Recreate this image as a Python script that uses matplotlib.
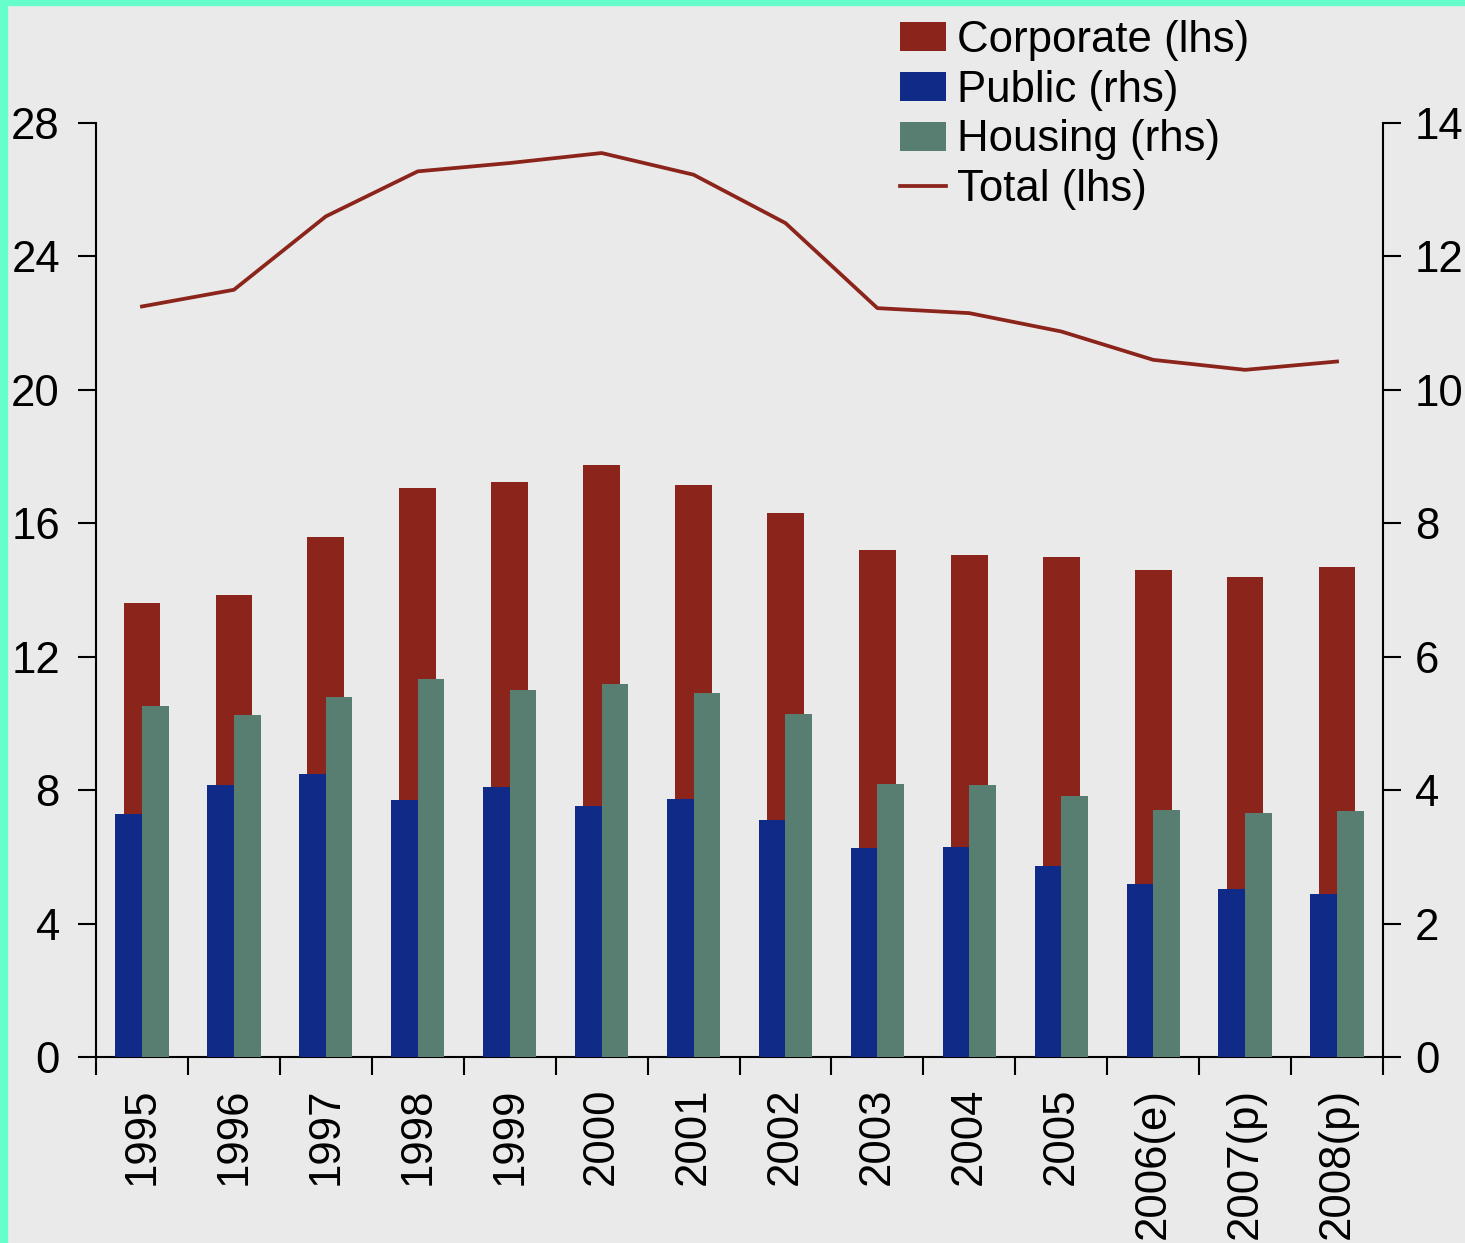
import matplotlib
matplotlib.use("Agg")
import matplotlib.pyplot as plt
import numpy as np
from matplotlib.patches import Rectangle

plt.rcParams['font.family'] = ['Liberation Sans', 'DejaVu Sans']

# data
years = ['1995', '1996', '1997', '1998', '1999', '2000', '2001', '2002',
         '2003', '2004', '2005', '2006(e)', '2007(p)', '2008(p)']
corporate = [13.6, 13.85, 15.6, 17.05, 17.25, 17.75, 17.15, 16.3,
             15.2, 15.05, 15.0, 14.6, 14.4, 14.7]
total = [22.5, 23.0, 25.2, 26.55, 26.8, 27.1, 26.45, 25.0,
         22.45, 22.3, 21.75, 20.9, 20.6, 20.85]
public = [3.64, 4.08, 4.24, 3.85, 4.05, 3.76, 3.87, 3.55,
          3.13, 3.15, 2.86, 2.59, 2.52, 2.44]
housing = [5.26, 5.13, 5.4, 5.67, 5.5, 5.59, 5.46, 5.14,
           4.09, 4.08, 3.91, 3.7, 3.66, 3.69]

c_corp = '#8B241B'
c_pub = '#0F2A87'
c_hous = '#577E71'
bg = '#EAEAEA'
fs = 31.5

fig = plt.figure(figsize=(14.65, 12.43), dpi=100, facecolor=bg)
ax = fig.add_axes([96/1465, 1 - 1057/1243, (1383-96)/1465, (1057-123)/1243])
ax.set_facecolor(bg)
ax2 = ax.twinx()
ax2.patch.set_visible(False)

x = np.arange(len(years))
bw = 0.29

ax.bar(x, corporate, width=0.40, color=c_corp, label='Corporate (lhs)', zorder=1)
ax.plot(x, total, color=c_corp, lw=2.7, label='Total (lhs)', zorder=2)
ax2.bar(x - bw/2, public, width=bw, color=c_pub, label='Public (rhs)')
ax2.bar(x + bw/2, housing, width=bw, color=c_hous, label='Housing (rhs)')

ax.set_xlim(-0.5, len(years) - 0.5)
ax.set_ylim(0, 28)
ax2.set_ylim(0, 14)
ax.set_yticks(range(0, 29, 4))
ax2.set_yticks(range(0, 15, 2))

ax.set_xticks(x)
ax.set_xticklabels(years, rotation=90, va='top', ha='center')
ax.set_xticks(np.arange(-0.5, len(years)), minor=True)
ax.tick_params(axis='x', which='major', length=0, pad=22, labelsize=fs)
ax.tick_params(axis='x', which='minor', length=13, width=1.5, direction='out')
ax.tick_params(axis='y', length=13, width=1.5, direction='out', labelsize=fs, pad=13)
ax2.tick_params(axis='y', length=13, width=1.5, direction='out', labelsize=fs, pad=10)

for a in (ax, ax2):
    a.spines['top'].set_visible(False)
    for s in a.spines.values():
        s.set_linewidth(1.5)
ax.spines['right'].set_visible(False)
ax2.spines['left'].set_visible(False)
ax2.spines['bottom'].set_visible(False)

# legend
h1, l1 = ax.get_legend_handles_labels()
h2, l2 = ax2.get_legend_handles_labels()
handles = [h1[1], h2[0], h2[1], h1[0]]
labels = [l1[1], l2[0], l2[1], l1[0]]
leg = fig.legend(handles, labels, loc='upper left', bbox_to_anchor=(900/1465, 1 - 20/1243),
                 frameon=False, fontsize=fs, handlelength=1.05, handleheight=0.65,
                 handletextpad=0.25, labelspacing=0.2, borderaxespad=0, borderpad=0)

# mint border on top and left
fig.add_artist(Rectangle((0, 1 - 5/1243), 1, 5/1243, transform=fig.transFigure,
                         color='#66FFCC', zorder=10))
fig.add_artist(Rectangle((0, 0), 7/1465, 1, transform=fig.transFigure,
                         color='#66FFCC', zorder=10))

fig.savefig('out.png', dpi=100, facecolor=bg)
